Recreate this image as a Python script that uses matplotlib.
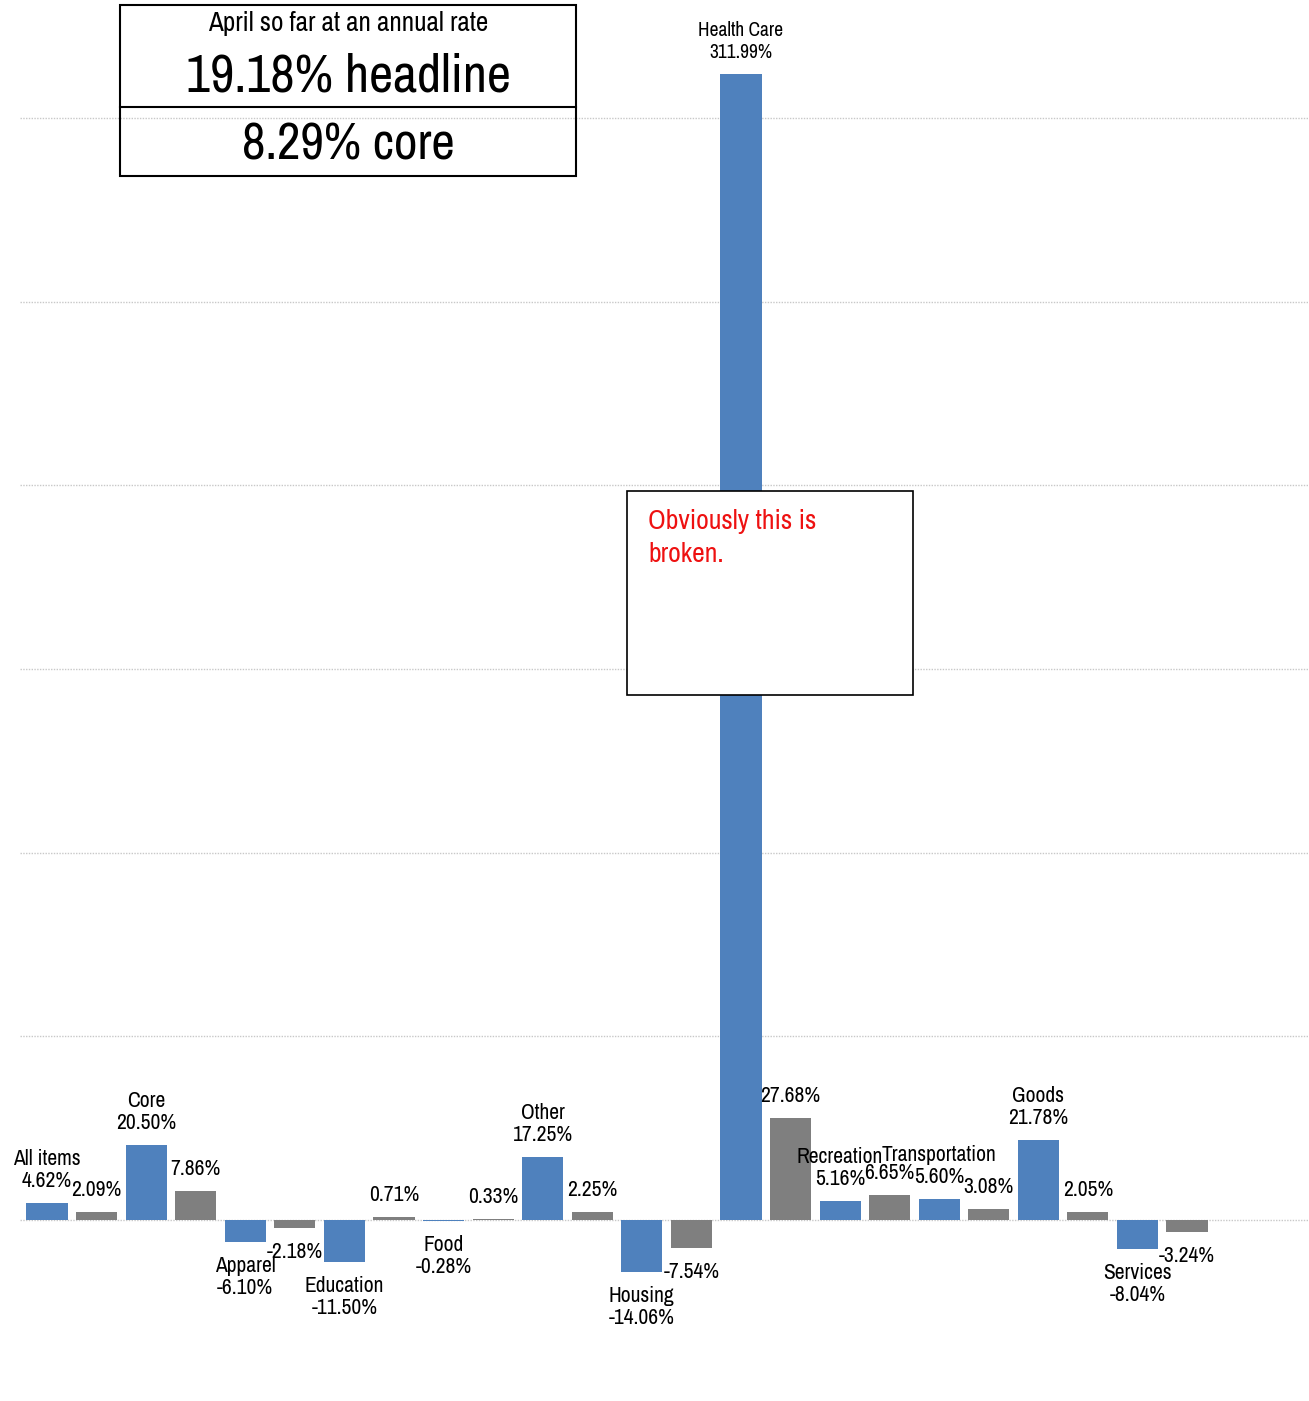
import matplotlib.pyplot as plt
from matplotlib.patches import Rectangle
from matplotlib import font_manager

names = ['All items', '', 'Core', '', 'Apparel', '', 'Education', '', 'Food', '',
         'Other', '', 'Housing', '', 'Health Care', '', 'Recreation', '',
         'Transportation', '', 'Goods', '', 'Services', '']
values = [4.62, 2.09, 20.50, 7.86, -6.10, -2.18, -11.50, 0.71, -0.28, 0.33,
          17.25, 2.25, -14.06, -7.54, 311.99, 27.68, 5.16, 6.65,
          5.60, 3.08, 21.78, 2.05, -8.04, -3.24]
headline = 19.18
core = 8.29

# look for a narrow face, the original uses a condensed gothic
avail = sorted({f.name for f in font_manager.fontManager.ttflist})
narrow = [n for n in avail if 'Narrow' in n or 'Condensed' in n]
if narrow:
    main_font = narrow[0]
elif 'Liberation Sans' in avail:
    main_font = 'Liberation Sans'
else:
    main_font = 'DejaVu Sans'
plt.rcParams['font.family'] = [main_font, 'DejaVu Sans']

W, H = 1309, 1401
fig = plt.figure(figsize=(W / 100, H / 100), dpi=100)
ax = fig.add_axes([20 / W, 0, 1 - 20 / W, 1])

blue = '#4F81BD'
gray = '#7F7F7F'
colors = [blue if i % 2 == 0 else gray for i in range(len(values))]
x = list(range(len(values)))
ax.bar(x, values, width=0.83, color=colors, zorder=2)

ax.set_xlim(-0.545, 25.46)
ax.set_ylim(-49.3, 332.1)
for g in range(0, 301, 50):
    ax.axhline(g, color='#C8C8C8', lw=1, ls=(0, (1, 1)), zorder=1)
for s in ax.spines.values():
    s.set_visible(False)
ax.set_xticks([])
ax.set_yticks([])

# labels: name above value, both outside the bar end
for i, (n, v) in enumerate(zip(names, values)):
    fs = 15.5
    step = 22
    if v >= 0:
        lines = [f'{v:.2f}%', n] if n else [f'{v:.2f}%']
        sign, gap = 1, 22
    else:
        lines = [n, f'{v:.2f}%'] if n else [f'{v:.2f}%']
        sign, gap = -1, 24
    if n == 'Health Care':
        fs, gap = 14, 21
    for k, t in enumerate(lines):
        ax.annotate(t, (i, v), xytext=(0, sign * (gap + k * step)), textcoords='offset pixels',
                    ha='center', va='center', fontsize=fs, zorder=3)


def fx(px):
    return px / W


def fy(py):
    return 1 - py / H


# summary box top left
fig.add_artist(Rectangle((fx(120), fy(176)), fx(576) - fx(120), fy(5) - fy(176),
                         transform=fig.transFigure, fill=False, ec='black', lw=1.5))
fig.add_artist(plt.Line2D([fx(120), fx(576)], [fy(107), fy(107)],
                          transform=fig.transFigure, color='black', lw=1.5))
fig.text(fx(348), fy(24), 'April so far at an annual rate', ha='center', va='center', fontsize=19.5)
fig.text(fx(348), fy(76), f'{headline:.2f}% headline', ha='center', va='center', fontsize=38)
fig.text(fx(348), fy(145), f'{core:.2f}% core', ha='center', va='center', fontsize=37)

# red note box
fig.add_artist(Rectangle((fx(627), fy(695)), fx(913) - fx(627), fy(491) - fy(695),
                         transform=fig.transFigure, fc='white', ec='black', lw=1.2, zorder=5))
fig.text(fx(648), fy(521), 'Obviously this is', ha='left', va='center',
         fontsize=20, color='#EE1111', zorder=6)
fig.text(fx(648), fy(555), 'broken.', ha='left', va='center',
         fontsize=20, color='#EE1111', zorder=6)

fig.savefig('out.png', dpi=100)
